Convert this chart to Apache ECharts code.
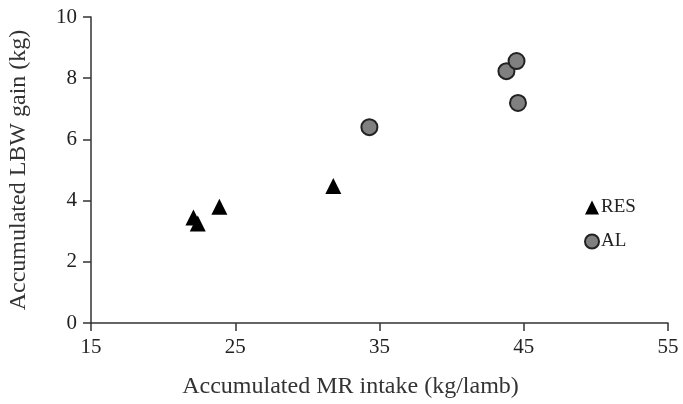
<!DOCTYPE html>
<html>
<head>
<meta charset="utf-8">
<script src="https://cdn.jsdelivr.net/npm/echarts@6/dist/echarts.min.js"></script>
<style>
  html, body { margin: 0; padding: 0; background: #fff; }
  #chart { width: 683px; height: 404px; }
</style>
</head>
<body>
<div id="chart"></div>
<script>
// RES (restricted) - accumulated MR intake vs LBW gain
var resIntake = [22.1, 22.4, 23.9, 31.8];
var resGain = [3.45, 3.25, 3.8, 4.48];
// AL (ad libitum)
var alIntake = [34.3, 43.8, 44.5, 44.6];
var alGain = [6.4, 8.23, 8.56, 7.19];

var xTicks = [15, 25, 35, 45, 55];
var yTicks = [0, 2, 4, 6, 8, 10];

function pairs(xs, ys) {
    var out = [];
    for (var i = 0; i < xs.length; i++) out.push([xs[i], ys[i]]);
    return out;
}

var font = '"Liberation Serif", "Times New Roman", serif';
var chart = echarts.init(document.getElementById('chart'));
chart.setOption({
    animation: false,
    backgroundColor: '#fff',
    textStyle: { fontFamily: font },
    grid: { left: 91, right: 15, top: 17, bottom: 81, outerBoundsMode: 'none' },
    legend: {
        orient: 'vertical',
        left: 579,
        top: 193,
        itemGap: 15,
        itemWidth: 14,
        itemHeight: 14,
        textStyle: { fontFamily: font, fontSize: 19, color: '#222', padding: [0, 0, 0, -3] },
        data: ['RES', 'AL']
    },
    xAxis: {
        type: 'value',
        min: xTicks[0],
        max: xTicks[xTicks.length - 1],
        interval: 10,
        name: 'Accumulated MR intake (kg/lamb)',
        nameLocation: 'middle',
        nameGap: 52,
        nameTextStyle: { fontFamily: font, fontSize: 24, color: '#333', padding: [0, 58, 0, 0] },
        axisLine: { lineStyle: { color: '#333', width: 1.5 } },
        axisTick: { show: true, length: 8, lineStyle: { color: '#333', width: 1.5 } },
        axisLabel: { fontFamily: font, fontSize: 21, color: '#222', margin: 14 },
        splitLine: { show: false }
    },
    yAxis: {
        type: 'value',
        min: yTicks[0],
        max: yTicks[yTicks.length - 1],
        interval: 2,
        name: 'Accumulated LBW gain (kg)',
        nameLocation: 'middle',
        nameGap: 60,
        nameTextStyle: { fontFamily: font, fontSize: 24, color: '#333' },
        axisLine: { show: true, lineStyle: { color: '#333', width: 1.5 } },
        axisTick: { show: true, length: 8, lineStyle: { color: '#333', width: 1.5 } },
        axisLabel: { fontFamily: font, fontSize: 21, color: '#222', margin: 14 },
        splitLine: { show: false }
    },
    series: [
        {
            name: 'RES',
            type: 'scatter',
            symbol: 'triangle',
            symbolSize: 16,
            itemStyle: { color: '#000', opacity: 1 },
            data: pairs(resIntake, resGain)
        },
        {
            name: 'AL',
            type: 'scatter',
            symbol: 'circle',
            symbolSize: 16,
            itemStyle: { color: '#808080', borderColor: '#222', borderWidth: 2, opacity: 1 },
            data: pairs(alIntake, alGain)
        }
    ]
});
</script>
</body>
</html>
